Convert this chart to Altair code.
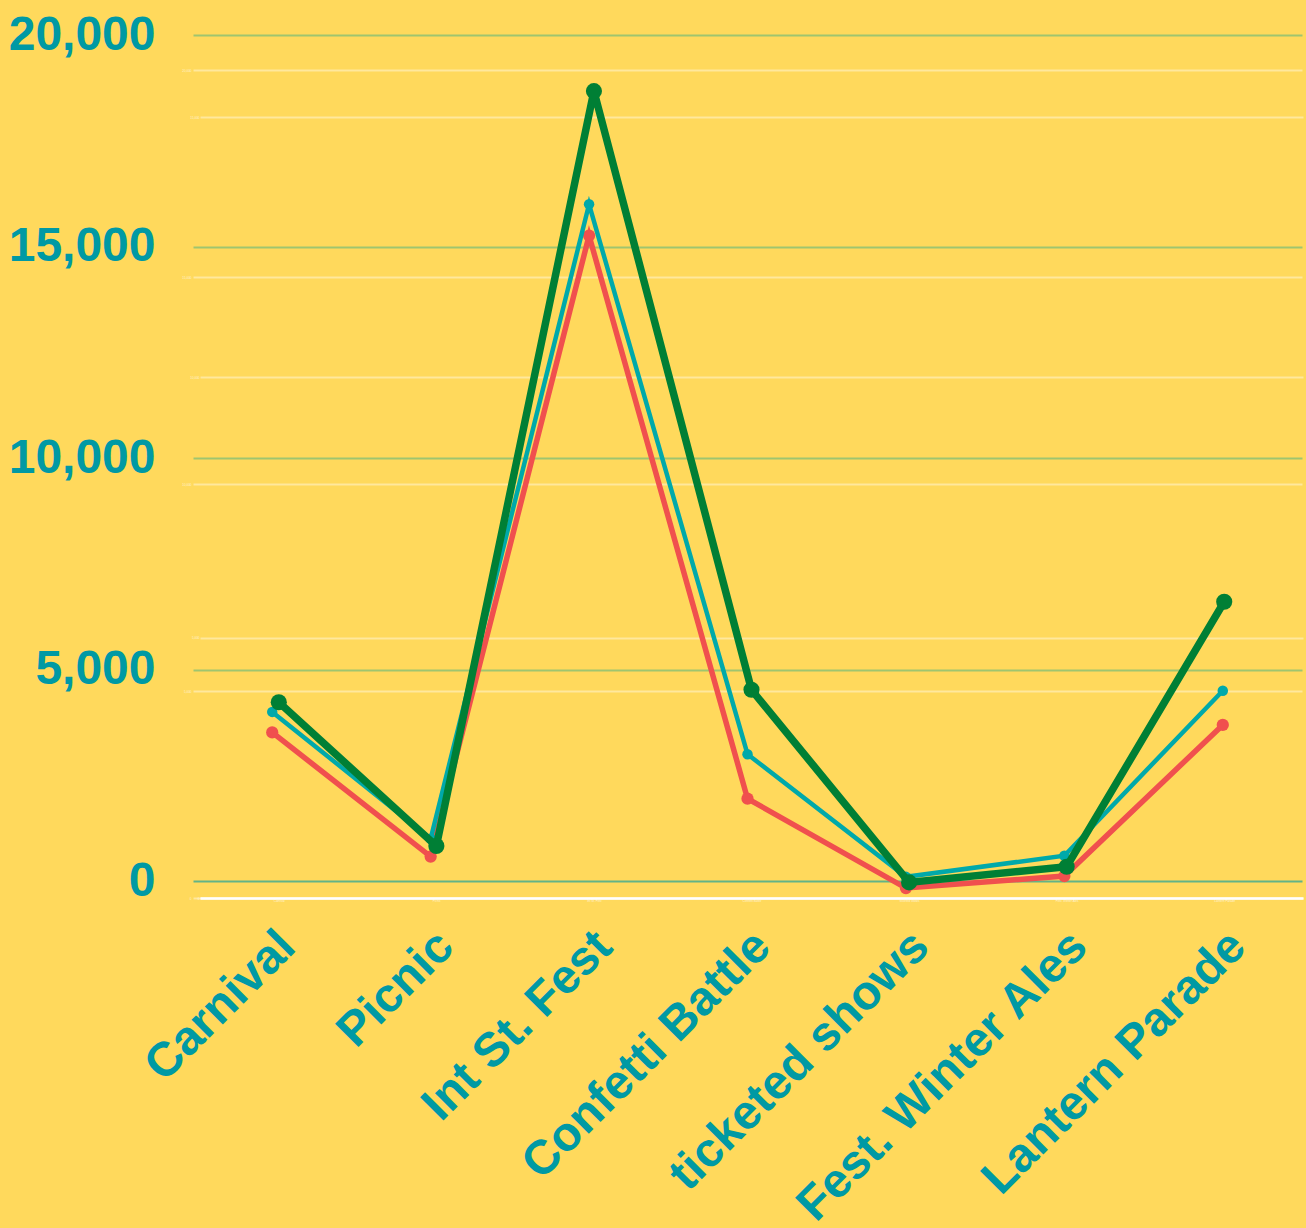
import altair as alt
import pandas as pd

categories = ["Carnival", "Picnic", "Int St. Fest", "Confetti Battle",
              "ticketed shows", "Fest. Winter Ales", "Lantern Parade"]
teal_values = [4000, 1000, 16000, 3000, 100, 600, 4500]
red_values = [4000, 1000, 16000, 2400, 240, 530, 4180]
green_values = [3760, 1000, 15500, 4000, 300, 600, 5690]

df = pd.DataFrame({"event": categories, "teal": teal_values,
                   "red": red_values, "green": green_values})

TEAL = "#00A9AA"
LABEL = "#0099A4"
RED = "#F0504E"
GREEN = "#007F35"
BG = "#FFD95C"
FONT = "Liberation Sans"

base = alt.Chart(df)

red_layer = base.mark_line(
    color=RED, strokeWidth=5.5,
    point=alt.OverlayMarkDef(color=RED, size=150, filled=True, opacity=1),
).encode(
    x=alt.X("event:N", sort=categories, axis=None),
    y=alt.Y("red:Q",
            scale=alt.Scale(domain=[0, 21691], nice=False, zero=False),
            axis=alt.Axis(orient="left", values=[0, 5000, 10000, 15000, 20000],
                          grid=True, gridColor="white", gridOpacity=0.4, gridWidth=2,
                          ticks=False, domain=False, labelFontSize=3,
                          labelColor="white", labelOpacity=0.7, labelPadding=2,
                          title=None)),
)

teal_layer = base.mark_line(
    color=TEAL, strokeWidth=4.5,
    point=alt.OverlayMarkDef(color=TEAL, size=110, filled=True, opacity=1),
).encode(
    x=alt.X("event:N", sort=categories,
            axis=alt.Axis(title=None, orient="bottom", labelAngle=-45,
                          labelAlign="right", labelBaseline="top", labelFont=FONT,
                          labelFontWeight="bold", labelFontSize=48, labelColor=LABEL,
                          labelPadding=24, labelOffset=-2, labelLimit=0,
                          ticks=False, domain=False, grid=False)),
    y=alt.Y("teal:Q",
            scale=alt.Scale(domain=[-400, 20830], nice=False, zero=False),
            axis=alt.Axis(orient="left", values=[0, 5000, 10000, 15000, 20000],
                          format=",.0f", grid=True,
                          gridColor={"condition": {"test": "datum.value === 0",
                                                   "value": "#62B387"},
                                     "value": "#9FC56F"},
                          gridWidth=2, ticks=False, domain=False,
                          labelFont=FONT, labelFontWeight="bold", labelFontSize=48,
                          labelColor=LABEL, labelPadding=38, title=None)),
)

green_layer = base.mark_line(
    color=GREEN, strokeWidth=7.5,
    point=alt.OverlayMarkDef(color=GREEN, size=260, filled=True, opacity=1),
).encode(
    x=alt.X("event:N", sort=categories,
            scale=alt.Scale(range=[7, 1110]),
            axis=alt.Axis(title=None, orient="bottom", labelAngle=0, labelFontSize=3,
                          labelColor="white", labelOpacity=0.7, labelPadding=1,
                          ticks=False, domain=True, domainColor="white",
                          domainWidth=2.5, grid=False)),
    y=alt.Y("green:Q",
            scale=alt.Scale(domain=[0, 17250], nice=False, zero=False),
            axis=alt.Axis(orient="left", values=[0, 5000, 10000, 15000],
                          grid=True, gridColor="white", gridOpacity=0.4, gridWidth=2,
                          ticks=False, domain=False, labelFontSize=3,
                          labelColor="white", labelOpacity=0.7, labelPadding=-6,
                          title=None)),
)

chart = alt.layer(red_layer, teal_layer, green_layer).resolve_scale(
    x="independent", y="independent"
).properties(
    width=1109, height=898,
    background=BG,
    padding={"left": 193, "top": 0, "right": 4, "bottom": 330},
    autosize=alt.AutoSizeParams(type="none"),
).configure_view(stroke=None)

chart.save("out.html", embed_options={"renderer": "svg", "actions": False})
